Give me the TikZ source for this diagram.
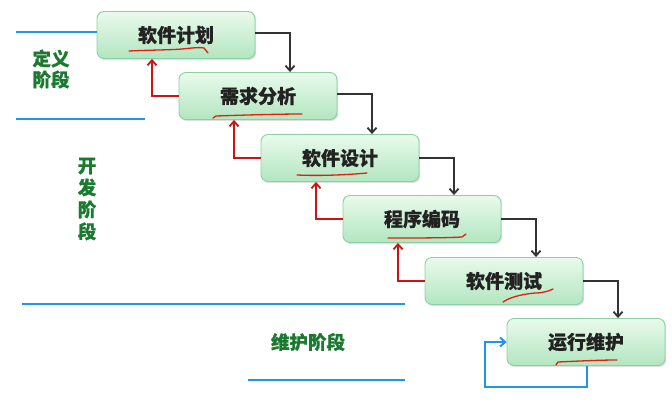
\documentclass[tikz,border=0pt]{standalone}
\usepackage{fontspec}
\setmainfont{Noto Sans CJK SC}[BoldFeatures={FakeBold=0.6}]
\usetikzlibrary{arrows.meta,shadows}
\definecolor{boxtop}{HTML}{EAFAEC}
\definecolor{boxbot}{HTML}{B2E6C0}
\definecolor{boxedge}{HTML}{8CCFA4}
\definecolor{txtdark}{HTML}{222222}
\definecolor{phgreen}{HTML}{1B7A30}
\definecolor{phblue}{HTML}{2196E8}
\definecolor{fwdcol}{HTML}{333333}
\definecolor{backcol}{HTML}{CC1414}
\definecolor{marker}{HTML}{E02010}
\begin{document}
\begin{tikzpicture}[x=1pt,y=-1pt,
  stage/.style={draw=boxedge, line width=0.9pt, rounded corners=7pt,
    top color=boxtop, bottom color=boxbot,
    minimum width=158pt, minimum height=47pt, inner sep=0pt,
    font=\bfseries\fontsize{19}{19}\selectfont, text=txtdark,
    drop shadow={shadow xshift=1.2pt, shadow yshift=-1.5pt, opacity=0.25}},
  fwd/.style={draw=fwdcol, line width=1.8pt, -{Straight Barb[length=5pt,width=9pt]}},
  back/.style={draw=backcol, line width=1.8pt, -{Straight Barb[length=5pt,width=9pt]}},
  loopline/.style={draw=phblue, line width=2pt, -{Straight Barb[length=5pt,width=9pt]}},
  phase/.style={draw=phblue, line width=2.4pt},
  phtext/.style={text=phgreen, font=\bfseries\fontsize{18.5}{21}\selectfont, align=center, inner sep=0pt},
  handmark/.style={draw=marker, line width=1.3pt, line cap=round}
]
\useasboundingbox[fill=white] (0,0) rectangle (672,410);

% phase separator lines
\coordinate (l1a) at (16,32);
\coordinate (l2a) at (16,119); \coordinate (l2b) at (145,119);
\coordinate (l3a) at (22,304); \coordinate (l3b) at (405,304);
\coordinate (l4a) at (248,380); \coordinate (l4b) at (405,380);
\draw[phase] (l2a) -- (l2b);
\draw[phase] (l3a) -- (l3b);
\draw[phase] (l4a) -- (l4b);

% stages
\node[stage] (b1) at (176,35) {软件计划};
\node[stage] (b2) at (258,96) {需求分析};
\node[stage] (b3) at (340,158) {软件设计};
\node[stage] (b4) at (422,219) {程序编码};
\node[stage] (b5) at (504,281) {软件测试};
\node[stage] (b6) at (586,342) {运行维护};

\draw[phase] (l1a) -- (b1.west |- l1a);

% forward arrows
\draw[fwd] ([yshift=2pt]b1.east) -| ([xshift=32pt]b2.north);
\draw[fwd] ([yshift=2pt]b2.east) -| ([xshift=32pt]b3.north);
\draw[fwd] (b3.east) -| ([xshift=32pt]b4.north);
\draw[fwd] (b4.east) -| ([xshift=32pt]b5.north);
\draw[fwd] (b5.east) -| ([xshift=32pt]b6.north);

% backward arrows
\draw[back] (b2.west) -| ([xshift=-24pt]b1.south);
\draw[back] (b3.west) -| ([xshift=-24pt]b2.south);
\draw[back] (b4.west) -| ([xshift=-24pt]b3.south);
\draw[back] (b5.west) -| ([xshift=-24pt]b4.south);

% maintenance loop
\coordinate (lp1) at (587,387);
\coordinate (lp2) at (485,387);
\draw[loopline] ([xshift=1pt]b6.south) -- (lp1) -- (lp2) |- (b6.west);

% phase labels
\node[phtext] (p1) at (51,69) {定义\\阶段};
\node[phtext, font=\bfseries\fontsize{18.5}{22}\selectfont] (p2) at (87,199) {开\\发\\阶\\段};
\node[phtext] (p3) at (308,342) {维护阶段};

% handwritten underlines
\draw[handmark] (129,51) .. controls (150,50) and (170,50) .. (182,49) .. controls (192,48) and (200,47) .. (204,48) -- (208,53);
\draw[handmark] (213,118) -- (216,116) .. controls (245,115) and (280,114) .. (302,114);
\draw[handmark] (297,175) .. controls (320,176) and (345,175) .. (367,173);
\draw[handmark] (388,238) .. controls (415,238) and (445,238) .. (462,237) -- (466,234);
\draw[handmark] (503,302) .. controls (512,296) and (525,294) .. (535,293) .. controls (543,293) and (549,291) .. (553,289);
\draw[handmark] (556,365) -- (558,362) .. controls (580,361) and (600,360) .. (617,360);
\end{tikzpicture}
\end{document}
